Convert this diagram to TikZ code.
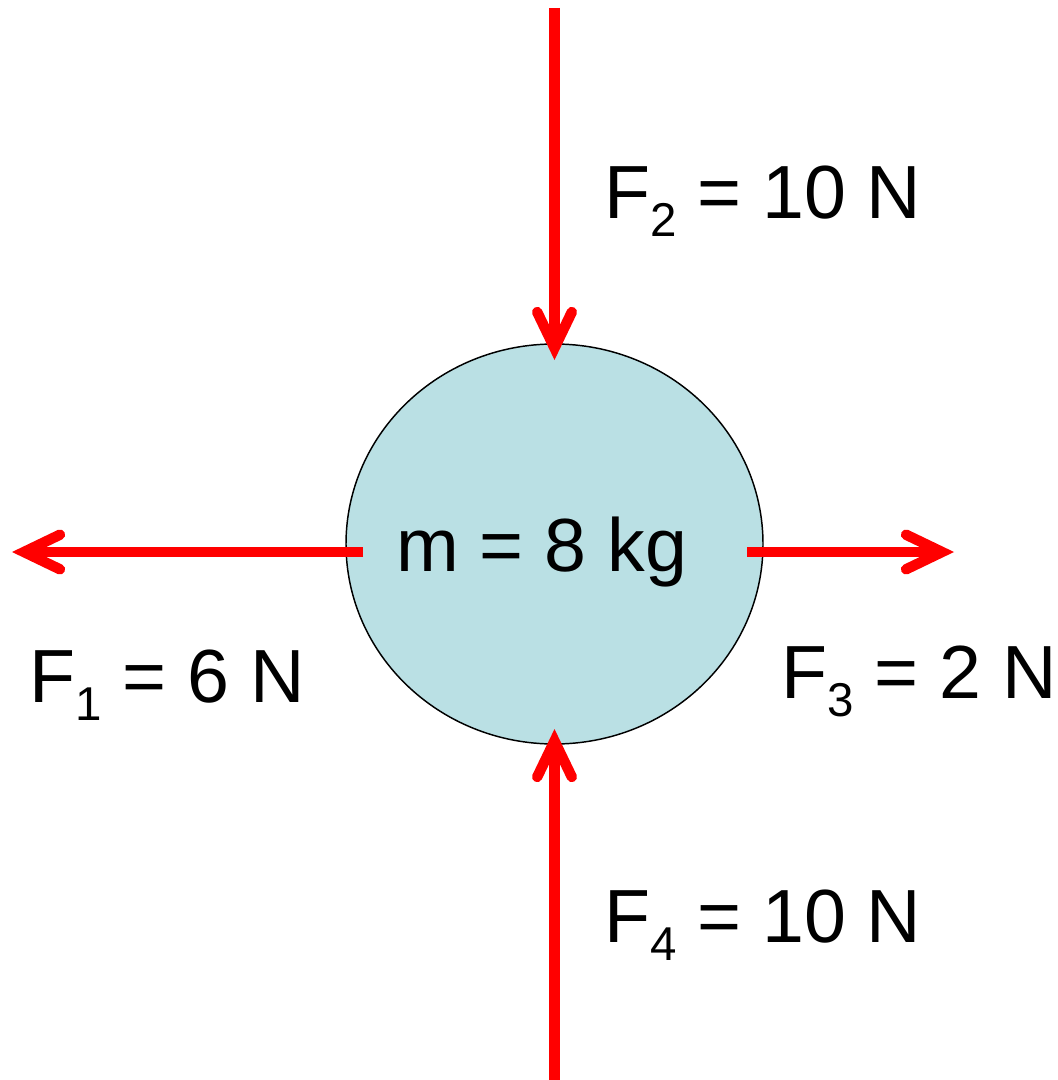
\documentclass[tikz,border=0pt]{standalone}
\usepackage{fontspec}
\setmainfont{Liberation Sans}
\usetikzlibrary{arrows.meta,shapes.geometric}
\definecolor{massfill}{RGB}{186,224,228}
\definecolor{forcered}{RGB}{255,0,0}
\newcommand\Fsub[1]{F\raisebox{-13.5pt}{\fontsize{35.6pt}{36pt}\selectfont #1}}
\tikzset{
  force/.style={draw=forcered, line width=7.8pt,
    -{Straight Barb[length=27pt,width=26pt,line cap=round,line join=miter]}},
  forcelabel/.style={anchor=base west, inner sep=0pt, outer sep=0pt,
    font=\fontsize{56.5pt}{60pt}\selectfont},
  mass/.style={ellipse, draw=black, line width=1.1pt, fill=massfill,
    minimum width=312.75pt, minimum height=300pt, inner sep=0pt}
}
\begin{document}
\begin{tikzpicture}[x=0.75pt,y=-0.75pt]
\useasboundingbox (0,0) rectangle (1057,1080);
\node[mass] (m) at (554.5,544) {};
\node[forcelabel] (mlab) at (396,571) {m = 8 kg};
% force end points
\coordinate (f2s) at (554.5,8);
\coordinate (f2e) at (554.5,360);
\coordinate (f4s) at (554.5,1080);
\coordinate (f4e) at (554.5,729);
\coordinate (f1s) at (363,552);
\coordinate (f1e) at (12,552);
\coordinate (f3s) at (747,552);
\coordinate (f3e) at (954,552);
\draw[force] (f2s) -- (f2e);
\draw[force] (f4s) -- (f4e);
\draw[force] (f1s) -- (f1e);
\draw[force] (f3s) -- (f3e);
% labels
\node[forcelabel] (l2) at (604,219) {\Fsub{2} = 10 N};
\node[forcelabel] (l1) at (29,702) {\Fsub{1} = 6 N};
\node[forcelabel] (l3) at (781,698) {\Fsub{3} = 2 N};
\node[forcelabel] (l4) at (604,942) {\Fsub{4} = 10 N};
\end{tikzpicture}
\end{document}
